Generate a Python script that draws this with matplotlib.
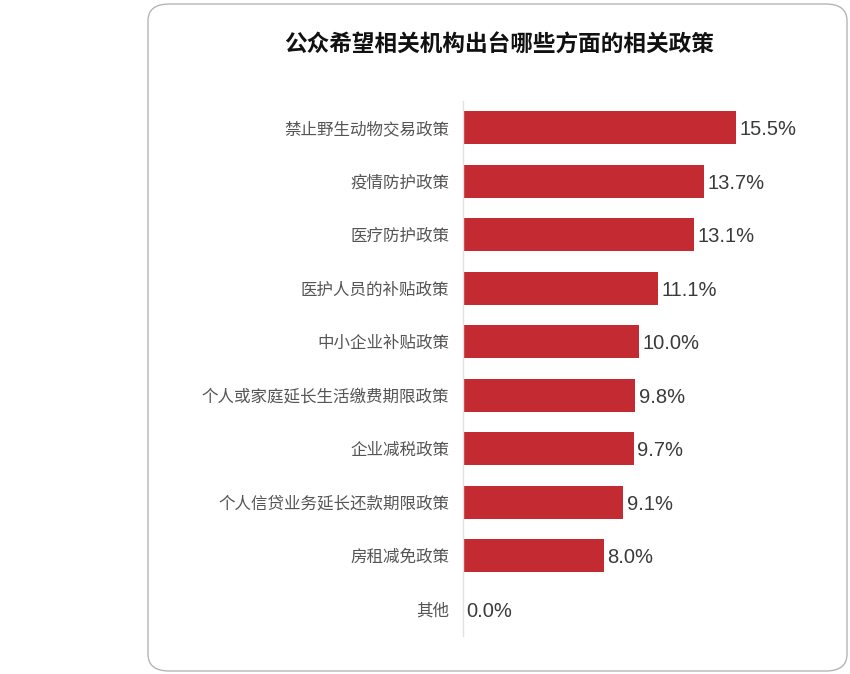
import matplotlib
matplotlib.use("Agg")
import matplotlib.pyplot as plt
from matplotlib.patches import FancyBboxPatch

plt.rcParams['font.family'] = ['Noto Sans CJK SC', 'DejaVu Sans']

categories = ['禁止野生动物交易政策', '疫情防护政策', '医疗防护政策', '医护人员的补贴政策',
              '中小企业补贴政策', '个人或家庭延长生活缴费期限政策', '企业减税政策',
              '个人信贷业务延长还款期限政策', '房租减免政策', '其他']
values = [15.5, 13.7, 13.1, 11.1, 10.0, 9.8, 9.7, 9.1, 8.0, 0.0]
title = '公众希望相关机构出台哪些方面的相关政策'

W, H = 850, 674
fig = plt.figure(figsize=(W / 100, H / 100), dpi=100)

# rounded frame, kept behind the axes
box = FancyBboxPatch((148 / W, 3 / H), (847 - 148) / W, (670 - 3) / H,
                     boxstyle="round,pad=0,rounding_size=0.025",
                     transform=fig.transFigure, facecolor='white',
                     edgecolor='#b5b5b5', linewidth=1.0, zorder=-5)
fig.patches.append(box)

# axes: x from 463 px, 17.6 px per percent; y from 101 to 636 px
x0, ppu = 463, 17.6
xmax = 17
ax = fig.add_axes([x0 / W, 1 - 636 / H, xmax * ppu / W, (636 - 101) / H])
ax.set_xlim(0, xmax)
ax.set_ylim(len(categories) - 0.5, -0.5)

ypos = list(range(len(categories)))
ax.barh(ypos, values, height=0.62, color='#C42A31', linewidth=0)
for y, v in zip(ypos, values):
    ax.text(v + 0.2, y + 0.04, f'{v:.1f}%', va='center', ha='left',
            fontsize=14.5, color='#3a3a3a', family=['Liberation Sans'])

ax.set_yticks(ypos)
ax.set_yticklabels(categories, fontsize=11.9, color='#555555')
ax.tick_params(axis='y', length=0, pad=10)
ax.set_xticks([])
for s in ['top', 'right', 'bottom']:
    ax.spines[s].set_visible(False)
ax.spines['left'].set_color('#e3e3e3')
ax.spines['left'].set_linewidth(1.0)
ax.patch.set_alpha(0)

fig.text(499 / W, 1 - 45 / H, title, ha='center', va='center',
         fontsize=16.3, fontweight='bold', color='#111111')

fig.savefig('out.png', dpi=100)
